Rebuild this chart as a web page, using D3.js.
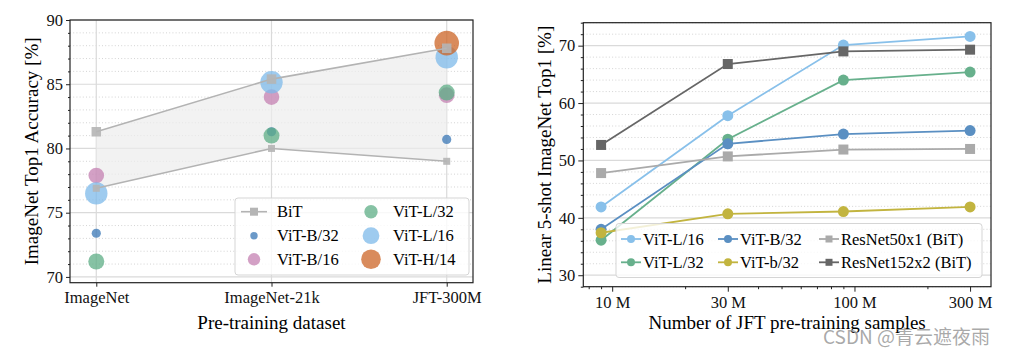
<!DOCTYPE html>
<html><head><meta charset="utf-8">
<script src="https://cdn.jsdelivr.net/npm/d3@7"></script>
<style>
body{margin:0;background:#fff;}
svg{display:block;}
.serif text, text.serif{font-family:"Liberation Serif","DejaVu Serif",serif;}
</style></head>
<body>
<svg id="c" width="1010" height="356"></svg>
<script>
// ---------- Left chart data ----------
const datasets = ["ImageNet", "ImageNet-21k", "JFT-300M"];
const bitUpper = [81.3, 85.4, 87.8];
const bitLower = [76.9, 80.0, 79.0];
const vitB32 = [73.4, 81.3, 80.7];
const vitB16 = [77.9, 84.0, 84.15];
const vitL32 = [71.2, 81.0, 84.35];
const vitL16 = [76.5, 85.15, 87.1];
const vitH14 = [null, null, 88.2];
const leftYTicks = [70, 75, 80, 85, 90];

// ---------- Right chart data ----------
const samples = [9e6, 30e6, 90e6, 300e6];
const rL16 = [41.9, 57.8, 70.1, 71.6];
const rL32 = [36.1, 53.7, 64.0, 65.4];
const rB32 = [38.0, 52.9, 54.6, 55.2];
const rb32 = [37.4, 40.7, 41.1, 41.9];
const rR50 = [47.8, 50.7, 51.9, 52.0];
const rR152 = [52.7, 66.8, 69.0, 69.3];
const rightXTicks = [1e7, 3e7, 1e8, 3e8];
const rightXLabels = ["10 M", "30 M", "100 M", "300 M"];
const rightYTicks = [30, 40, 50, 60, 70];

const svg = d3.select("#c");
const FONT = "Liberation Serif, DejaVu Serif, serif";
const TICKFS = 16.5, LABFS = 19;

function frame(g, x0, x1, y0, y1) {
  g.append("rect").attr("x", x0).attr("y", y0).attr("width", x1 - x0).attr("height", y1 - y0)
    .attr("fill", "none").attr("stroke", "#222").attr("stroke-width", 1.2);
}

// ================= LEFT =================
const L = {x0: 70, x1: 473, y0: 20, y1: 282.7};
const xL = d3.scaleLinear().domain([-0.15, 2.15]).range([L.x0, L.x1]);
const yL = d3.scaleLinear().domain([69.55, 90]).range([L.y1, L.y0]);
const gl = svg.append("g");

// minor grid (dotted)
const leftMinor = d3.range(70, 90.01, 1).filter(v => v % 5 !== 0);
gl.append("g").selectAll("line").data(leftMinor).join("line")
  .attr("x1", L.x0).attr("x2", L.x1).attr("y1", d => yL(d)).attr("y2", d => yL(d))
  .attr("stroke", "#cfcfcf").attr("stroke-width", 0.9).attr("stroke-dasharray", "1,2.2");
// major grid
gl.append("g").selectAll("line").data(leftYTicks).join("line")
  .attr("x1", L.x0).attr("x2", L.x1).attr("y1", d => yL(d)).attr("y2", d => yL(d))
  .attr("stroke", "#dadada").attr("stroke-width", 1.2);
gl.append("g").selectAll("line").data(datasets.map((d, i) => i)).join("line")
  .attr("x1", d => xL(d)).attr("x2", d => xL(d)).attr("y1", L.y0).attr("y2", L.y1)
  .attr("stroke", "#dadada").attr("stroke-width", 1.2);

// fill between BiT
const idx = datasets.map((d, i) => i);
const area = d3.area().x(i => xL(i)).y0(i => yL(bitLower[i])).y1(i => yL(bitUpper[i]));
gl.append("path").datum(idx).attr("d", area).attr("fill", "#ececec").attr("opacity", 0.7);

// scatter
const vitSeries = [
  {name: "ViT-B/32", vals: vitB32, color: "#3a77b6", r: 4.6, lr: 3.7},
  {name: "ViT-B/16", vals: vitB16, color: "#c480b2", r: 7.8, lr: 6.2},
  {name: "ViT-L/32", vals: vitL32, color: "#5eae86", r: 8.0, lr: 6.7},
  {name: "ViT-L/16", vals: vitL16, color: "#7eb9ea", r: 11.2, lr: 8.4},
  {name: "ViT-H/14", vals: vitH14, color: "#cc6426", r: 12.3, lr: 9.8}
];
vitSeries.forEach(s => {
  gl.append("g").selectAll("circle").data(s.vals.map((v, i) => ({v, i})).filter(d => d.v != null)).join("circle")
    .attr("cx", d => xL(d.i)).attr("cy", d => yL(d.v)).attr("r", s.r)
    .attr("fill", s.color).attr("opacity", 0.75);
});

// BiT lines + squares
const line = d3.line().x(i => xL(i));
[[bitUpper, 9.5], [bitLower, 7]].forEach(([vals, sz]) => {
  gl.append("path").datum(idx).attr("d", line.y(i => yL(vals[i])))
    .attr("fill", "none").attr("stroke", "#b3b3b3").attr("stroke-width", 1.6);
  gl.append("g").selectAll("rect").data(idx).join("rect")
    .attr("x", i => xL(i) - sz / 2).attr("y", i => yL(vals[i]) - sz / 2)
    .attr("width", sz).attr("height", sz).attr("fill", "#b5b5b5").attr("opacity", 0.9);
});

// axes
const axLy = d3.axisLeft(yL).tickValues(leftYTicks).tickSize(4).tickPadding(3);
const gly = gl.append("g").attr("transform", `translate(${L.x0},0)`).call(axLy);
const axLyMinor = d3.axisLeft(yL).tickValues(leftMinor).tickSize(2).tickFormat("");
gl.append("g").attr("transform", `translate(${L.x0},0)`).call(axLyMinor);
const axLx = d3.axisBottom(xL).tickValues(idx).tickFormat(i => datasets[i]).tickSize(4).tickPadding(5);
gl.append("g").attr("transform", `translate(0,${L.y1})`).call(axLx);
frame(gl, L.x0, L.x1, L.y0, L.y1);

gl.append("text").attr("x", (L.x0 + L.x1) / 2).attr("y", 329).attr("text-anchor", "middle")
  .attr("font-family", FONT).attr("font-size", LABFS).text("Pre-training dataset");
gl.append("text").attr("transform", `translate(38,${(L.y0 + L.y1) / 2}) rotate(-90)`).attr("text-anchor", "middle")
  .attr("font-family", FONT).attr("font-size", LABFS).text("ImageNet Top1 Accuracy [%]");

// left legend
const lg = gl.append("g");
lg.append("rect").attr("x", 235).attr("y", 198).attr("width", 234).attr("height", 77).attr("rx", 3)
  .attr("fill", "#fff").attr("fill-opacity", 0.8).attr("stroke", "#d5d5d5").attr("stroke-width", 1);
const lrows = [211.7, 235.7, 259.3];
lg.append("line").attr("x1", 241).attr("x2", 267).attr("y1", lrows[0]).attr("y2", lrows[0])
  .attr("stroke", "#b3b3b3").attr("stroke-width", 1.6);
lg.append("rect").attr("x", 254 - 4).attr("y", lrows[0] - 4).attr("width", 8).attr("height", 8).attr("fill", "#b5b5b5");
lg.append("text").attr("x", 277).attr("y", lrows[0] + 5.5).attr("font-family", FONT).attr("font-size", TICKFS).text("BiT");
const legPos = [[254, lrows[1]], [254, lrows[2]], [371, lrows[0]], [371, lrows[1]], [371, lrows[2]]];
vitSeries.forEach((s, k) => {
  const [cx, cy] = legPos[k];
  lg.append("circle").attr("cx", cx).attr("cy", cy).attr("r", s.lr).attr("fill", s.color).attr("opacity", 0.75);
  lg.append("text").attr("x", cx + (k < 2 ? 23 : 22)).attr("y", cy + 5.5).attr("font-family", FONT).attr("font-size", TICKFS).text(s.name);
});

// ================= RIGHT =================
const R = {x0: 583.3, x1: 991, y0: 22.7, y1: 286.7};
const xR = d3.scaleLog().domain([7.6e6, 3.66e8]).range([R.x0, R.x1]);
const yR = d3.scaleLinear().domain([28, 74]).range([R.y1, R.y0]);
const gr = svg.append("g");

const rightMinor = d3.range(28, 74.01, 2).filter(v => v % 10 !== 0);
gr.append("g").selectAll("line").data(rightMinor).join("line")
  .attr("x1", R.x0).attr("x2", R.x1).attr("y1", d => yR(d)).attr("y2", d => yR(d))
  .attr("stroke", "#cfcfcf").attr("stroke-width", 0.9).attr("stroke-dasharray", "1,2.2");
gr.append("g").selectAll("line").data(rightYTicks).join("line")
  .attr("x1", R.x0).attr("x2", R.x1).attr("y1", d => yR(d)).attr("y2", d => yR(d))
  .attr("stroke", "#dadada").attr("stroke-width", 1.2);

const rSeries = [
  {name: "ViT-L/16", vals: rL16, color: "#88c0ea", shape: "c"},
  {name: "ViT-L/32", vals: rL32, color: "#67b08c", shape: "c"},
  {name: "ViT-B/32", vals: rB32, color: "#5a8fc2", shape: "c"},
  {name: "ViT-b/32", vals: rb32, color: "#c2b43f", shape: "c"},
  {name: "ResNet50x1 (BiT)", vals: rR50, color: "#aaaaaa", shape: "s"},
  {name: "ResNet152x2 (BiT)", vals: rR152, color: "#666666", shape: "s"}
];
const rline = d3.line().x((d, i) => xR(samples[i])).y(d => yR(d));
rSeries.forEach(s => {
  gr.append("path").datum(s.vals).attr("d", rline).attr("fill", "none")
    .attr("stroke", s.color).attr("stroke-width", 1.8);
  const pts = s.vals.map((v, i) => ({x: xR(samples[i]), y: yR(v)}));
  if (s.shape === "c") {
    gr.append("g").selectAll("circle").data(pts).join("circle")
      .attr("cx", d => d.x).attr("cy", d => d.y).attr("r", 5.5).attr("fill", s.color);
  } else {
    gr.append("g").selectAll("rect").data(pts).join("rect")
      .attr("x", d => d.x - 5).attr("y", d => d.y - 5).attr("width", 10).attr("height", 10).attr("fill", s.color);
  }
});

// axes
gr.append("g").attr("transform", `translate(${R.x0},0)`)
  .call(d3.axisLeft(yR).tickValues(rightYTicks).tickSize(5).tickPadding(3));
gr.append("g").attr("transform", `translate(${R.x0},0)`)
  .call(d3.axisLeft(yR).tickValues(rightMinor).tickSize(2.5).tickFormat(""));
gr.append("g").attr("transform", `translate(0,${R.y1})`)
  .call(d3.axisBottom(xR).tickValues(rightXTicks).tickFormat((d, i) => rightXLabels[i]).tickSize(5).tickPadding(5));
const xMinor = [8e6, 9e6, 2e7, 4e7, 5e7, 6e7, 7e7, 8e7, 9e7, 2e8];
gr.append("g").attr("transform", `translate(0,${R.y1})`)
  .call(d3.axisBottom(xR).tickValues(xMinor).tickSize(2.5).tickFormat(""));
frame(gr, R.x0, R.x1, R.y0, R.y1);

gr.append("text").attr("x", (R.x0 + R.x1) / 2).attr("y", 329).attr("text-anchor", "middle")
  .attr("font-family", FONT).attr("font-size", LABFS).text("Number of JFT pre-training samples");
gr.append("text").attr("transform", `translate(551,${(R.y0 + R.y1) / 2}) rotate(-90)`).attr("text-anchor", "middle")
  .attr("font-family", FONT).attr("font-size", LABFS).text("Linear 5-shot ImageNet Top1 [%]");

// right legend
const rg = gr.append("g");
rg.append("rect").attr("x", 616).attr("y", 223.5).attr("width", 366).attr("height", 54).attr("rx", 3)
  .attr("fill", "#fff").attr("fill-opacity", 0.8).attr("stroke", "#d5d5d5").attr("stroke-width", 1);
const rRows = [239, 262.3];
const rCols = [621, 718, 819];
rSeries.forEach((s, k) => {
  const col = Math.floor(k / 2), row = k % 2;
  const x = rCols[col], y = rRows[row];
  rg.append("line").attr("x1", x).attr("x2", x + 20).attr("y1", y).attr("y2", y)
    .attr("stroke", s.color).attr("stroke-width", 1.8);
  if (s.shape === "c") rg.append("circle").attr("cx", x + 10).attr("cy", y).attr("r", 4).attr("fill", s.color);
  else rg.append("rect").attr("x", x + 6.5).attr("y", y - 3.5).attr("width", 7).attr("height", 7).attr("fill", s.color);
  rg.append("text").attr("x", x + 22).attr("y", y + 5.5).attr("font-family", FONT).attr("font-size", TICKFS).text(s.name);
});

// style axes
svg.selectAll(".domain").remove();
svg.selectAll(".tick line").attr("stroke", "#222").attr("stroke-width", 1);
svg.selectAll(".tick text").attr("font-family", FONT).attr("font-size", TICKFS).attr("fill", "#111");

// watermark
svg.append("text").attr("x", 823).attr("y", 344).attr("font-family", "Noto Sans CJK SC, Noto Sans, sans-serif")
  .attr("font-size", 19).attr("fill", "#9a9a9a").attr("fill-opacity", 0.85).text("CSDN @青云遮夜雨");
</script>
</body></html>
